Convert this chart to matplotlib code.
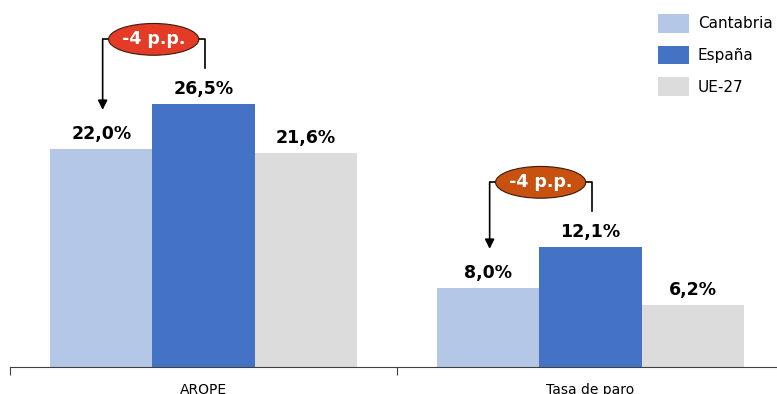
import matplotlib
matplotlib.use('Agg')
import matplotlib.pyplot as plt
from matplotlib.patches import Ellipse, Patch
import numpy as np

# Datos
categorias = ['AROPE', 'Tasa de paro']
series = ['Cantabria', 'España', 'UE-27']
cantabria = [22.0, 8.0]
espana = [26.5, 12.1]
ue27 = [21.6, 6.2]
diferencias = ['-4 p.p.', '-4 p.p.']

colores = ['#B4C7E7', '#4472C4', '#DCDCDC']
colores_elipse = ['#E33B26', '#C9510F']

fig = plt.figure(figsize=(7.77, 3.94), dpi=100)
ax = fig.add_axes([10 / 777, 1 - 367 / 394, 774 / 777, 347.5 / 394])

x = np.arange(len(categorias))
ancho = 0.2636
valores = [cantabria, espana, ue27]

for i, (serie, vals) in enumerate(zip(series, valores)):
    pos = x + (i - 1) * ancho
    ax.bar(pos, vals, ancho, color=colores[i], label=serie)
    for xp, v in zip(pos, vals):
        ax.text(xp, v + 0.6, f'{v:.1f}%'.replace('.', ','), ha='center', va='bottom',
                fontsize=12.5, fontweight='bold', color='black')

# Anotaciones de diferencia
for k in range(len(categorias)):
    x_izq = x[k] - ancho
    x_der = x[k]
    y_elipse = espana[k] + 6.5
    y_punta = cantabria[k] + 3.9
    y_der = espana[k] + 3.6
    x_elipse = x[k] - ancho / 2 + 0.003
    ax.plot([x_der + 0.005, x_der + 0.005, x_elipse],
            [y_der, y_elipse, y_elipse], color='black', lw=1.2)
    ax.annotate('', xy=(x_izq + 0.003, y_punta), xytext=(x_izq + 0.003, y_elipse),
                arrowprops=dict(arrowstyle='-|>', color='black', lw=1.2,
                                mutation_scale=14, shrinkA=0, shrinkB=0))
    ax.plot([x_izq + 0.003, x_elipse], [y_elipse, y_elipse], color='black', lw=1.2)
    e = Ellipse((x_elipse, y_elipse), 0.233, 3.2,
                facecolor=colores_elipse[k], edgecolor='#3a1a10', lw=0.8, zorder=3)
    ax.add_patch(e)
    ax.text(x_elipse, y_elipse, diferencias[k], ha='center', va='center',
            color='white', fontsize=12.5, fontweight='bold', zorder=4)

ax.set_xlim(-0.5, 1.5)
ax.set_ylim(0, 35)

# Ejes
for s in ['top', 'right', 'left']:
    ax.spines[s].set_visible(False)
ax.spines['bottom'].set_color('#404040')
ax.set_yticks([])
ax.set_xticks([-0.5, 0.5, 1.5])
ax.set_xticklabels([])
ax.tick_params(axis='x', which='major', direction='out', length=6, color='#404040')
ax.set_xticks(x, minor=True)
ax.set_xticklabels(categorias, minor=True)
ax.tick_params(axis='x', which='minor', length=0, pad=11.5, labelsize=10)

# Leyenda
handles = [Patch(facecolor=c, label=s) for c, s in zip(colores, series)]
fig.legend(handles=handles, loc='upper left', bbox_to_anchor=(652 / 777, 1 - 8 / 394),
           frameon=False, fontsize=11, handlelength=2.0, handleheight=1.5,
           labelspacing=0.85, handletextpad=0.6, borderaxespad=0)

plt.savefig('out.png', dpi=100)
plt.close()
